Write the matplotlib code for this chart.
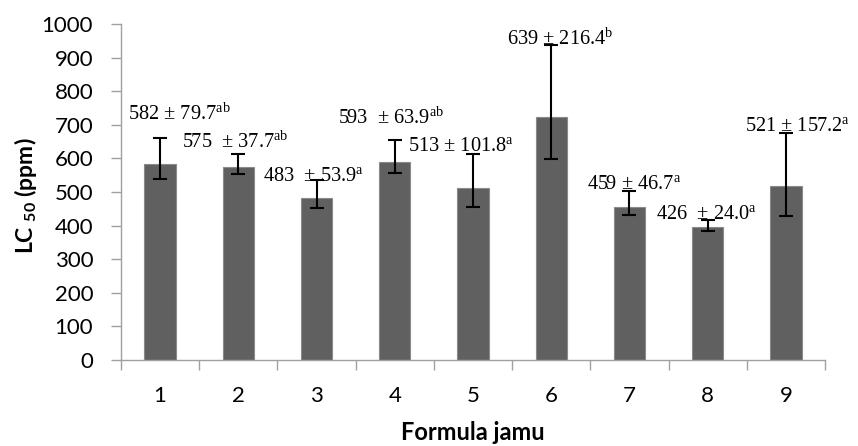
import numpy as np
import matplotlib
matplotlib.use('Agg')
import matplotlib.pyplot as plt

plt.rcParams['mathtext.fontset'] = 'custom'
plt.rcParams['mathtext.rm'] = 'Liberation Serif'
plt.rcParams['mathtext.bf'] = 'Lato:bold'

# data
formula = ['1', '2', '3', '4', '5', '6', '7', '8', '9']
lc50 = np.array([582, 575, 481, 590, 511, 722, 456, 397, 518])
err_low = np.array([538, 553, 451, 557, 454, 598, 432, 385, 429])
err_high = np.array([660, 612, 536, 655, 614, 937, 504, 417, 675])
ann_main = ['582 ± 79.7', '575  ± 37.7', '483  ± 53.9', '593  ± 63.9', '513 ± 101.8',
            '639 ± 216.4', '459 ± 46.7', '426  ± 24.0', '521 ± 157.2']
ann_sup = ['ab', 'ab', 'a', 'ab', 'a', 'b', 'a', 'a', 'a']

# where each label sits (x in category units, y in ppm, left/baseline)
ann_x = [0.593, 1.276, 2.32, 3.28, 4.17, 5.44, 6.455, 7.34, 8.48]
ann_y = [714, 632, 531, 704, 620, 937, 506, 417, 680]

fig = plt.figure(figsize=(8.58, 4.46), dpi=100)
ax = fig.add_axes([0.141, 0.193, 0.8205, 0.753])

x = np.arange(1, len(formula) + 1)
ax.bar(x, lc50, width=0.4, color='#606060', edgecolor='#8a8a8a', linewidth=0.8, zorder=2)
ax.errorbar(x, lc50, yerr=[lc50 - err_low, err_high - lc50], fmt='none',
            ecolor='black', elinewidth=1.5, capsize=5, capthick=1.5, zorder=3)

for tx, ty, m, s in zip(ann_x, ann_y, ann_main, ann_sup):
    ax.text(tx, ty, m + r'$^{\mathrm{' + s + '}}$', fontsize=14.7,
            family='Liberation Serif', ha='left', va='baseline', zorder=4)

ax.set_xlim(0.5, 9.5)
ax.set_ylim(0, 1000)
ax.set_yticks(range(0, 1001, 100))
ax.set_xticks(x)
ax.set_xticklabels(formula)
ax.set_xticks(np.arange(0.5, 10, 1), minor=True)
ax.tick_params(axis='x', which='major', length=0, pad=19)
ax.tick_params(axis='x', which='minor', length=7, color='#a0a0a0', width=1)
ax.tick_params(axis='y', length=7, color='#a0a0a0', width=1, pad=13)
for lab in ax.get_xticklabels() + ax.get_yticklabels():
    lab.set_family('Lato')
    lab.set_fontsize(16)

for sp in ['top', 'right']:
    ax.spines[sp].set_visible(False)
for sp in ['left', 'bottom']:
    ax.spines[sp].set_color('#a0a0a0')
    ax.spines[sp].set_linewidth(1)

ax.set_ylabel(r'LC $_{\mathbf{50}}$ (ppm)', family='Lato', fontweight='bold', fontsize=16.5)
ax.yaxis.set_label_coords(-0.135, 0.488)
ax.yaxis.label.set_va('center')
ax.set_xlabel('Formula jamu', family='Lato', fontweight='bold', fontsize=17)
ax.xaxis.set_label_coords(0.5, -0.217)
ax.xaxis.label.set_va('center')

fig.savefig('out.png', dpi=100)
